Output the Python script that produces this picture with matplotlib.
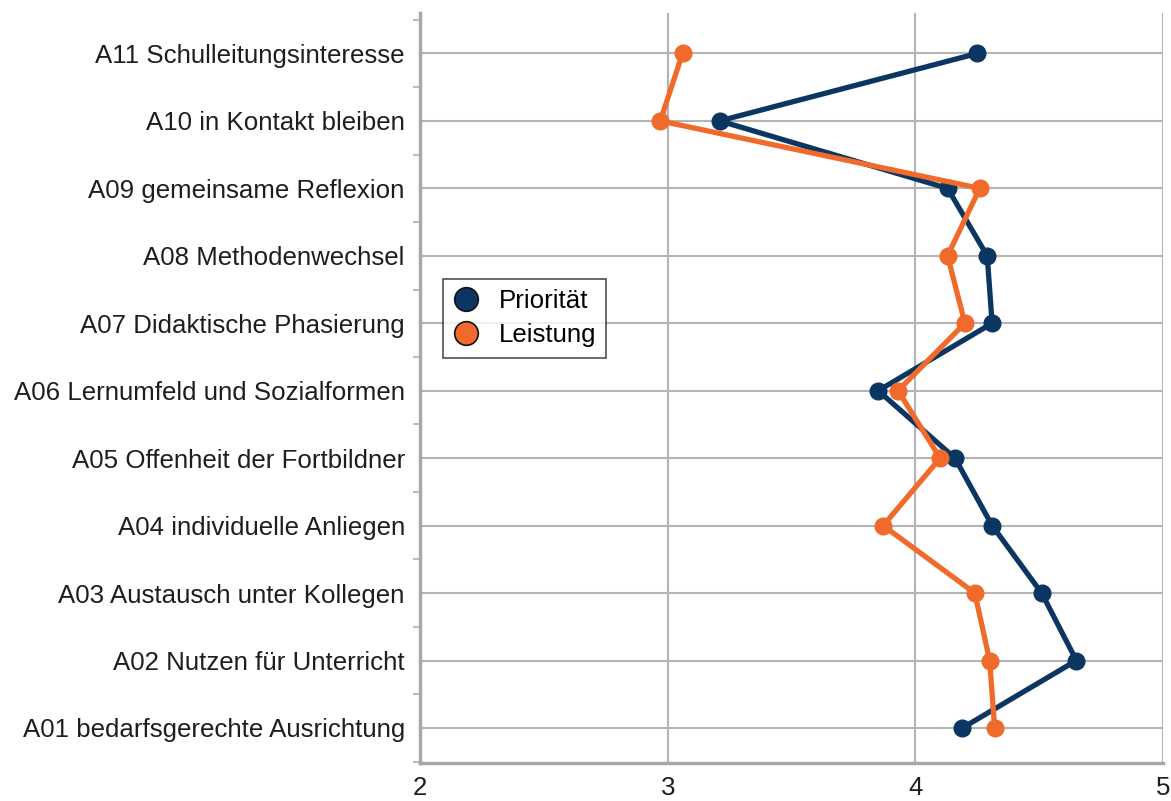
import matplotlib.pyplot as plt
import numpy as np
from matplotlib.lines import Line2D

labels = ['A01 bedarfsgerechte Ausrichtung', 'A02 Nutzen für Unterricht',
          'A03 Austausch unter Kollegen', 'A04 individuelle Anliegen',
          'A05 Offenheit der Fortbildner', 'A06 Lernumfeld und Sozialformen',
          'A07 Didaktische Phasierung', 'A08 Methodenwechsel',
          'A09 gemeinsame Reflexion', 'A10 in Kontakt bleiben',
          'A11 Schulleitungsinteresse']
prioritaet = [4.19, 4.65, 4.51, 4.31, 4.16, 3.85, 4.31, 4.29, 4.13, 3.21, 4.25]
leistung = [4.32, 4.30, 4.24, 3.87, 4.10, 3.93, 4.20, 4.13, 4.26, 2.97, 3.06]

navy = '#0c3662'
orange = '#f06a2b'

plt.rcParams['font.family'] = ['Liberation Sans', 'DejaVu Sans']

fig = plt.figure(figsize=(11.71, 8.01), dpi=100)
ax = fig.add_axes([0.3587, 0.0474, 0.6345, 0.9364])

ys = np.arange(len(labels))
ax.plot(prioritaet, ys, color=navy, lw=3.8, marker='o', ms=12, zorder=3)
ax.plot(leistung, ys, color=orange, lw=3.8, marker='o', ms=12, zorder=4)

ax.set_xlim(2, 5)
ax.set_ylim(-0.52, 10.6)
ax.set_xticks([2, 3, 4, 5])
ax.set_yticks(ys)
ax.set_yticklabels(labels)
ax.set_yticks(np.arange(-0.5, 11, 1), minor=True)
ax.tick_params(axis='y', which='major', length=0, pad=11, labelsize=18.6, labelcolor='#1e1e1e')
ax.tick_params(axis='y', which='minor', length=5, width=1.2, color='#b0b0b0')
ax.tick_params(axis='x', length=0, pad=9, labelsize=18.6, labelcolor='#1e1e1e')

ax.grid(True, color='#b4b4b4', lw=1.5)
ax.set_axisbelow(True)
for s in ['top', 'right']:
    ax.spines[s].set_visible(False)
for s in ['left', 'bottom']:
    ax.spines[s].set_color('#a8a8a8')
    ax.spines[s].set_linewidth(2.5)

handles = [Line2D([], [], ls='none', marker='o', ms=17, mfc=navy, mec='#111111', mew=1.2),
           Line2D([], [], ls='none', marker='o', ms=17, mfc=orange, mec='#111111', mew=1.2)]
leg = ax.legend(handles, ['Priorität', 'Leistung'], loc='center left',
                bbox_to_anchor=(0.031, 0.593), fontsize=18.6, frameon=True,
                fancybox=False, borderpad=0.4, handletextpad=0.75,
                labelspacing=0.4, handlelength=1.0, borderaxespad=0)
leg.get_frame().set_edgecolor('#222222')
leg.get_frame().set_linewidth(1.2)

fig.savefig('out.png', dpi=100)
